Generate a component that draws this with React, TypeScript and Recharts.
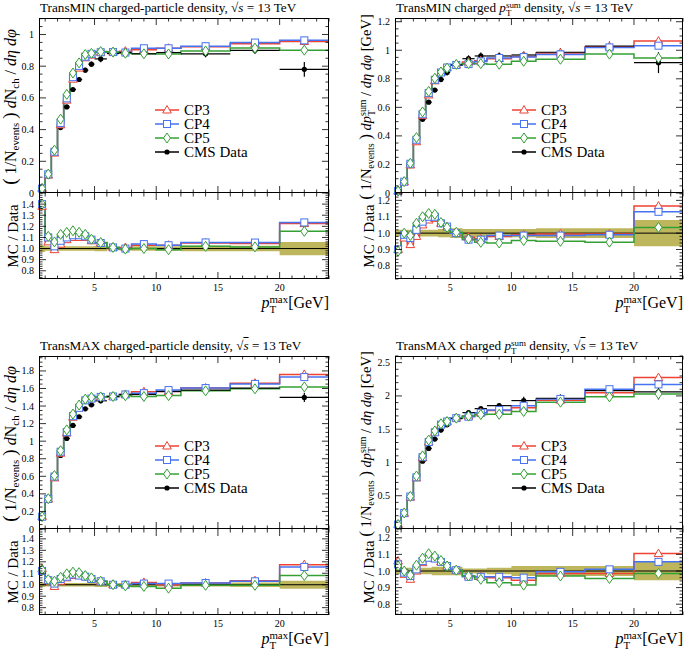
import React from "react";
import {
  Area,
  ComposedChart,
  ErrorBar,
  Line,
  ReferenceLine,
  Scatter,
  XAxis,
  YAxis,
} from "recharts";

const SERIF = '"Liberation Serif", "DejaVu Serif", serif';

// p_T^max bin edges [GeV]
const binEdges = [0.5, 1, 1.5, 2, 2.5, 3, 3.5, 4, 4.5, 5, 6, 7, 8, 10, 12, 16, 20, 24];

// TransMIN charged-particle density
const minNchData = [0.021, 0.107, 0.255, 0.413, 0.543, 0.653, 0.716, 0.775, 0.813, 0.846, 0.88, 0.886, 0.878, 0.886, 0.878, 0.9, 0.78];
const minNchRelErr = [0.03, 0.02, 0.02, 0.02, 0.02, 0.02, 0.02, 0.02, 0.02, 0.025, 0.015, 0.015, 0.02, 0.02, 0.025, 0.025, 0.06];
const minNchCP3 = [0.029, 0.113, 0.252, 0.43, 0.586, 0.718, 0.788, 0.853, 0.87, 0.888, 0.889, 0.895, 0.904, 0.913, 0.922, 0.941, 0.956];
const minNchCP4 = [0.028, 0.118, 0.26, 0.442, 0.597, 0.731, 0.802, 0.86, 0.878, 0.888, 0.889, 0.886, 0.913, 0.913, 0.926, 0.949, 0.963];
const minNchCP5 = [0.029, 0.119, 0.27, 0.466, 0.622, 0.757, 0.821, 0.874, 0.881, 0.892, 0.889, 0.882, 0.878, 0.877, 0.896, 0.914, 0.901];
const minNchCP3Ratio = [1.38, 1.06, 0.99, 1.04, 1.08, 1.1, 1.1, 1.1, 1.07, 1.05, 1.01, 1.01, 1.03, 1.03, 1.05, 1.045, 1.225];
const minNchCP4Ratio = [1.4, 1.1, 1.02, 1.07, 1.1, 1.12, 1.12, 1.11, 1.08, 1.05, 1.01, 1.0, 1.04, 1.03, 1.055, 1.054, 1.235];
const minNchCP5Ratio = [1.4, 1.11, 1.06, 1.128, 1.146, 1.16, 1.146, 1.128, 1.084, 1.054, 1.01, 0.995, 1.0, 0.99, 1.02, 1.015, 1.155];

// TransMIN charged pT-sum density
const minPtData = [0.016, 0.08, 0.211, 0.366, 0.516, 0.636, 0.721, 0.796, 0.845, 0.897, 0.941, 0.96, 0.96, 0.967, 0.986, 1.03, 0.913];
const minPtRelErr = [0.02, 0.02, 0.02, 0.02, 0.02, 0.02, 0.02, 0.025, 0.025, 0.03, 0.025, 0.025, 0.025, 0.025, 0.03, 0.03, 0.08];
const minPtCP3 = [0.014, 0.078, 0.196, 0.359, 0.542, 0.687, 0.786, 0.844, 0.879, 0.897, 0.917, 0.926, 0.941, 0.957, 0.981, 1.025, 1.064];
const minPtCP4 = [0.014, 0.079, 0.205, 0.373, 0.552, 0.7, 0.793, 0.844, 0.879, 0.897, 0.903, 0.922, 0.946, 0.952, 0.971, 1.02, 1.032];
const minPtCP5 = [0.014, 0.08, 0.208, 0.388, 0.568, 0.712, 0.804, 0.848, 0.875, 0.901, 0.907, 0.906, 0.902, 0.923, 0.937, 0.973, 0.945];
const minPtCP3Ratio = [0.9, 0.97, 0.93, 0.98, 1.05, 1.08, 1.09, 1.06, 1.04, 1.0, 0.975, 0.965, 0.98, 0.99, 0.995, 0.995, 1.165];
const minPtCP4Ratio = [0.9, 0.99, 0.97, 1.02, 1.07, 1.1, 1.1, 1.06, 1.04, 1.0, 0.96, 0.96, 0.985, 0.985, 0.985, 0.99, 1.13];
const minPtCP5Ratio = [0.89, 1.0, 0.985, 1.06, 1.1, 1.12, 1.115, 1.065, 1.035, 1.005, 0.964, 0.944, 0.94, 0.955, 0.95, 0.945, 1.035];

// TransMAX charged-particle density
const maxNchData = [0.125, 0.33, 0.591, 0.838, 1.031, 1.179, 1.278, 1.369, 1.414, 1.46, 1.509, 1.532, 1.532, 1.566, 1.581, 1.604, 1.498];
const maxNchRelErr = [0.02, 0.015, 0.015, 0.015, 0.015, 0.015, 0.015, 0.015, 0.015, 0.02, 0.015, 0.015, 0.015, 0.015, 0.015, 0.02, 0.035];
const maxNchCP3 = [0.143, 0.34, 0.582, 0.863, 1.093, 1.273, 1.38, 1.465, 1.485, 1.504, 1.509, 1.532, 1.563, 1.566, 1.605, 1.66, 1.76];
const maxNchCP4 = [0.14, 0.343, 0.597, 0.88, 1.103, 1.285, 1.38, 1.465, 1.485, 1.504, 1.509, 1.532, 1.547, 1.582, 1.605, 1.652, 1.73];
const maxNchCP5 = [0.141, 0.345, 0.609, 0.892, 1.129, 1.309, 1.412, 1.479, 1.499, 1.504, 1.509, 1.517, 1.509, 1.519, 1.573, 1.596, 1.618];
const maxNchCP3Ratio = [1.14, 1.03, 0.985, 1.03, 1.06, 1.08, 1.08, 1.07, 1.05, 1.03, 1.0, 1.0, 1.02, 1.0, 1.015, 1.035, 1.175];
const maxNchCP4Ratio = [1.12, 1.04, 1.01, 1.05, 1.07, 1.09, 1.08, 1.07, 1.05, 1.03, 1.0, 1.0, 1.01, 1.01, 1.015, 1.03, 1.155];
const maxNchCP5Ratio = [1.13, 1.045, 1.03, 1.065, 1.095, 1.11, 1.105, 1.08, 1.06, 1.03, 1.0, 0.99, 0.985, 0.97, 0.995, 0.995, 1.08];

// TransMAX charged pT-sum density
const maxPtData = [0.065, 0.241, 0.503, 0.769, 1.02, 1.211, 1.352, 1.487, 1.568, 1.658, 1.749, 1.809, 1.854, 1.93, 1.965, 2.08, 2.06];
const maxPtRelErr = [0.02, 0.02, 0.02, 0.02, 0.02, 0.02, 0.025, 0.025, 0.025, 0.025, 0.015, 0.015, 0.02, 0.03, 0.03, 0.03, 0.055];
const maxPtCP3 = [0.069, 0.236, 0.478, 0.769, 1.071, 1.308, 1.453, 1.569, 1.615, 1.666, 1.697, 1.746, 1.78, 1.824, 1.936, 2.049, 2.276];
const maxPtCP4 = [0.068, 0.239, 0.488, 0.777, 1.081, 1.308, 1.453, 1.569, 1.615, 1.666, 1.688, 1.746, 1.789, 1.853, 1.955, 2.101, 2.173];
const maxPtCP5 = [0.067, 0.241, 0.49, 0.796, 1.099, 1.337, 1.474, 1.581, 1.615, 1.666, 1.697, 1.719, 1.724, 1.766, 1.906, 1.986, 2.029];
const maxPtCP3Ratio = [1.06, 0.98, 0.95, 1.0, 1.05, 1.08, 1.075, 1.055, 1.03, 1.005, 0.97, 0.965, 0.96, 0.945, 0.985, 0.985, 1.105];
const maxPtCP4Ratio = [1.04, 0.99, 0.97, 1.01, 1.06, 1.08, 1.075, 1.055, 1.03, 1.005, 0.965, 0.965, 0.965, 0.96, 0.995, 1.01, 1.055];
const maxPtCP5Ratio = [1.03, 1.0, 0.975, 1.035, 1.077, 1.104, 1.09, 1.063, 1.03, 1.005, 0.97, 0.95, 0.93, 0.915, 0.97, 0.955, 0.985];

const seriesStyle = [
  { name: "CP3", color: "#ee4233", kind: "tri" },
  { name: "CP4", color: "#4573f2", kind: "sq" },
  { name: "CP5", color: "#34a034", kind: "dia" },
];
const BAND = "#bdb65c";

const X_DOMAIN = [0.5, 24];
const PAD_L = 34;
const PAD_R = 4;
const PAD_T = 4;

function range(from: number, to: number, step: number) {
  const out: number[] = [];
  for (let v = from; v <= to + 1e-9; v += step) out.push(Math.round(v * 1000) / 1000);
  return out;
}
const xTicks = range(1, 24, 1);

const centers = binEdges.slice(0, -1).map((lo, i) => (lo + binEdges[i + 1]) / 2);
const halfWidths = binEdges.slice(0, -1).map((lo, i) => (binEdges[i + 1] - lo) / 2);

function stepData(values: number[]) {
  const pts = values.map((y, i) => ({ x: binEdges[i], y }));
  pts.push({ x: binEdges[binEdges.length - 1], y: values[values.length - 1] });
  return pts;
}
function bandData(rel: number[]) {
  const pts = rel.map((r, i) => ({ x: binEdges[i], range: [1 - r, 1 + r] }));
  pts.push({ x: binEdges[binEdges.length - 1], range: pts[pts.length - 1].range });
  return pts;
}
function centerPoints(values: number[]) {
  return values.map((y, i) => ({ x: centers[i], y }));
}
function dataPoints(values: number[], rel: number[]) {
  return values.map((y, i) => ({ x: centers[i], y, ex: halfWidths[i], ey: y * rel[i] }));
}

function Marker({ kind, cx, cy, color }: { kind: string; cx: number; cy: number; color: string }) {
  if (kind === "tri")
    return (
      <polygon
        points={`${cx},${cy - 4.5} ${cx + 4.3},${cy + 3} ${cx - 4.3},${cy + 3}`}
        fill="#fff"
        stroke={color}
        strokeWidth={1}
      />
    );
  if (kind === "sq")
    return <rect x={cx - 3.5} y={cy - 3.5} width={7} height={7} fill="#fff" stroke={color} strokeWidth={1} />;
  if (kind === "dia")
    return (
      <polygon
        points={`${cx},${cy - 5} ${cx + 3.5},${cy} ${cx},${cy + 5} ${cx - 3.5},${cy}`}
        fill="#fff"
        stroke={color}
        strokeWidth={1}
      />
    );
  return <circle cx={cx} cy={cy} r={2.6} fill="#000" />;
}

function xTick(plotH: number, labels: boolean) {
  return (p: any) => {
    const v = p.payload.value;
    const major = v % 5 === 0;
    const len = major ? 7 : 3.5;
    return (
      <g>
        <line x1={p.x} y1={p.y} x2={p.x} y2={p.y - len} stroke="#000" strokeWidth={0.8} />
        <line x1={p.x} y1={p.y - plotH} x2={p.x} y2={p.y - plotH + len} stroke="#000" strokeWidth={0.8} />
        {labels && major ? (
          <text x={p.x} y={p.y + 12} textAnchor="middle" fontSize={10} fontFamily={SERIF} fill="#000">
            {v}
          </text>
        ) : null}
      </g>
    );
  };
}

function yTick(plotW: number, majors: number[], fmt: (v: number) => string) {
  return (p: any) => {
    const v = p.payload.value;
    const major = majors.some((m) => Math.abs(m - v) < 1e-6);
    const len = major ? 7 : 3.5;
    return (
      <g>
        <line x1={p.x} y1={p.y} x2={p.x + len} y2={p.y} stroke="#000" strokeWidth={0.8} />
        <line x1={p.x + plotW} y1={p.y} x2={p.x + plotW - len} y2={p.y} stroke="#000" strokeWidth={0.8} />
        {major ? (
          <text x={p.x - 5} y={p.y} dy="0.35em" textAnchor="end" fontSize={10} fontFamily={SERIF} fill="#000">
            {fmt(v)}
          </text>
        ) : null}
      </g>
    );
  };
}

const fmtMain = (v: number) => String(Number(v.toFixed(2)));
const fmtRatio = (v: number) => v.toFixed(1);

function Sqrt() {
  return (
    <span>
      √<span style={{ textDecoration: "overline", fontStyle: "italic" }}>s</span>
    </span>
  );
}

function SubSup({ sub, sup }: { sub: string; sup: string }) {
  return (
    <span
      style={{
        display: "inline-block",
        verticalAlign: "-0.45em",
        fontSize: "0.68em",
        lineHeight: 0.95,
        textAlign: "left",
      }}
    >
      <span style={{ display: "block" }}>{sup}</span>
      <span style={{ display: "block" }}>{sub}</span>
    </span>
  );
}

const Sub = ({ children }: { children: React.ReactNode }) => (
  <span style={{ fontSize: "0.68em", verticalAlign: "-0.3em" }}>{children}</span>
);
const Paren = ({ children }: { children: React.ReactNode }) => (
  <span style={{ fontSize: "1.2em" }}>{children}</span>
);

type PanelDef = {
  key: string;
  left: number;
  right: number;
  top: number;
  split: number;
  bottom: number;
  title: React.ReactNode;
  ylabel: React.ReactNode;
  ylabelSize: number;
  data: number[];
  relErr: number[];
  mc: number[][];
  ratio: number[][];
  mainDomain: number[];
  mainMajors: number[];
  mainMinor: number;
  ratioDomain: number[];
  ratioMajors: number[];
  legendX: number;
  legendY: number;
};

const nchLabel = (
  <>
    <Paren>(</Paren> 1/N<Sub>events</Sub> <Paren>)</Paren> <i>d</i>N<Sub>ch</Sub> / <i>dη dφ</i>
  </>
);
const ptLabel = (
  <>
    <Paren>(</Paren> 1/N<Sub>events</Sub> <Paren>)</Paren> <i>dp</i>
    <SubSup sub="T" sup="sum" /> / <i>dη dφ</i> [GeV]
  </>
);

const panels: PanelDef[] = [
  {
    key: "minNch",
    left: 39,
    right: 329,
    top: 18,
    split: 193,
    bottom: 279,
    title: (
      <>
        TransMIN charged-particle density, <Sqrt /> = 13 TeV
      </>
    ),
    ylabel: nchLabel,
    ylabelSize: 16,
    data: minNchData,
    relErr: minNchRelErr,
    mc: [minNchCP3, minNchCP4, minNchCP5],
    ratio: [minNchCP3Ratio, minNchCP4Ratio, minNchCP5Ratio],
    mainDomain: [0, 1.104],
    mainMajors: [0, 0.2, 0.4, 0.6, 0.8, 1],
    mainMinor: 0.05,
    ratioDomain: [0.726, 1.5],
    ratioMajors: [0.8, 0.9, 1.0, 1.1, 1.2, 1.3, 1.4],
    legendX: 155,
    legendY: 110,
  },
  {
    key: "minPt",
    left: 395,
    right: 683,
    top: 18,
    split: 193,
    bottom: 279,
    title: (
      <>
        TransMIN charged <i>p</i>
        <SubSup sub="T" sup="sum" /> density, <Sqrt /> = 13 TeV
      </>
    ),
    ylabel: ptLabel,
    ylabelSize: 14.5,
    data: minPtData,
    relErr: minPtRelErr,
    mc: [minPtCP3, minPtCP4, minPtCP5],
    ratio: [minPtCP3Ratio, minPtCP4Ratio, minPtCP5Ratio],
    mainDomain: [0, 1.226],
    mainMajors: [0, 0.2, 0.4, 0.6, 0.8, 1, 1.2],
    mainMinor: 0.05,
    ratioDomain: [0.72, 1.245],
    ratioMajors: [0.8, 0.9, 1.0, 1.1, 1.2],
    legendX: 512,
    legendY: 110,
  },
  {
    key: "maxNch",
    left: 39,
    right: 329,
    top: 356,
    split: 529,
    bottom: 615,
    title: (
      <>
        TransMAX charged-particle density, <Sqrt /> = 13 TeV
      </>
    ),
    ylabel: nchLabel,
    ylabelSize: 16,
    data: maxNchData,
    relErr: maxNchRelErr,
    mc: [maxNchCP3, maxNchCP4, maxNchCP5],
    ratio: [maxNchCP3Ratio, maxNchCP4Ratio, maxNchCP5Ratio],
    mainDomain: [0, 1.97],
    mainMajors: [0, 0.2, 0.4, 0.6, 0.8, 1, 1.2, 1.4, 1.6, 1.8],
    mainMinor: 0.05,
    ratioDomain: [0.736, 1.486],
    ratioMajors: [0.8, 0.9, 1.0, 1.1, 1.2, 1.3, 1.4],
    legendX: 155,
    legendY: 446,
  },
  {
    key: "maxPt",
    left: 395,
    right: 683,
    top: 356,
    split: 529,
    bottom: 615,
    title: (
      <>
        TransMAX charged <i>p</i>
        <SubSup sub="T" sup="sum" /> density, <Sqrt /> = 13 TeV
      </>
    ),
    ylabel: ptLabel,
    ylabelSize: 14.5,
    data: maxPtData,
    relErr: maxPtRelErr,
    mc: [maxPtCP3, maxPtCP4, maxPtCP5],
    ratio: [maxPtCP3Ratio, maxPtCP4Ratio, maxPtCP5Ratio],
    mainDomain: [0, 2.6],
    mainMajors: [0, 0.5, 1, 1.5, 2, 2.5],
    mainMinor: 0.1,
    ratioDomain: [0.735, 1.253],
    ratioMajors: [0.8, 0.9, 1.0, 1.1, 1.2],
    legendX: 512,
    legendY: 446,
  },
];

function MainPlot({ p }: { p: PanelDef }) {
  const w = p.right - p.left;
  const h = p.split - p.top;
  const yTicks = range(p.mainDomain[0], p.mainDomain[1], p.mainMinor);
  const padB = 8;
  return (
    <div style={{ position: "absolute", left: p.left - PAD_L, top: p.top - PAD_T }}>
      <ComposedChart
        width={w + PAD_L + PAD_R}
        height={h + PAD_T + padB}
        margin={{ top: PAD_T, right: PAD_R, bottom: 0, left: 0 }}
      >
        <XAxis
          type="number"
          dataKey="x"
          domain={X_DOMAIN}
          ticks={xTicks}
          interval={0}
          axisLine={false}
          tickLine={false}
          tickSize={0}
          tickMargin={0}
          height={padB}
          tick={xTick(h, false)}
        />
        <YAxis
          type="number"
          domain={p.mainDomain}
          ticks={yTicks}
          interval={0}
          axisLine={false}
          tickLine={false}
          tickSize={0}
          tickMargin={0}
          width={PAD_L}
          tick={yTick(w, p.mainMajors, fmtMain)}
        />
        {seriesStyle.map((s, i) => (
          <Line
            key={s.name + "-line"}
            data={stepData(p.mc[i])}
            dataKey="y"
            type="stepAfter"
            stroke={s.color}
            strokeWidth={1.5}
            dot={false}
            isAnimationActive={false}
          />
        ))}
        <Scatter
          data={dataPoints(p.data, p.relErr)}
          dataKey="y"
          isAnimationActive={false}
          shape={(q: any) => <Marker kind="data" cx={q.cx} cy={q.cy} color="#000" />}
        >
          <ErrorBar dataKey="ex" direction="x" width={0} stroke="#000" strokeWidth={1.2} />
          <ErrorBar dataKey="ey" direction="y" width={0} stroke="#000" strokeWidth={1.2} />
        </Scatter>
        {seriesStyle.map((s, i) => (
          <Scatter
            key={s.name + "-pts"}
            data={centerPoints(p.mc[i])}
            dataKey="y"
            isAnimationActive={false}
            shape={(q: any) => <Marker kind={s.kind} cx={q.cx} cy={q.cy} color={s.color} />}
          />
        ))}
      </ComposedChart>
    </div>
  );
}

function RatioPlot({ p }: { p: PanelDef }) {
  const w = p.right - p.left;
  const h = p.bottom - p.split;
  const yTicks = range(Math.ceil(p.ratioDomain[0] * 50) / 50, p.ratioDomain[1], 0.02);
  const padB = 20;
  return (
    <div style={{ position: "absolute", left: p.left - PAD_L, top: p.split - PAD_T }}>
      <ComposedChart
        width={w + PAD_L + PAD_R}
        height={h + PAD_T + padB}
        margin={{ top: PAD_T, right: PAD_R, bottom: 0, left: 0 }}
      >
        <XAxis
          type="number"
          dataKey="x"
          domain={X_DOMAIN}
          ticks={xTicks}
          interval={0}
          axisLine={false}
          tickLine={false}
          tickSize={0}
          tickMargin={0}
          height={padB}
          tick={xTick(h, true)}
        />
        <YAxis
          type="number"
          domain={p.ratioDomain}
          ticks={yTicks}
          interval={0}
          axisLine={false}
          tickLine={false}
          tickSize={0}
          tickMargin={0}
          width={PAD_L}
          tick={yTick(w, p.ratioMajors, fmtRatio)}
        />
        <Area
          data={bandData(p.relErr)}
          dataKey="range"
          type="stepAfter"
          stroke="none"
          fill={BAND}
          fillOpacity={1}
          isAnimationActive={false}
        />
        <ReferenceLine y={1} stroke="#000" strokeWidth={1} />
        {seriesStyle.map((s, i) => (
          <Line
            key={s.name + "-line"}
            data={stepData(p.ratio[i])}
            dataKey="y"
            type="stepAfter"
            stroke={s.color}
            strokeWidth={1.5}
            dot={false}
            isAnimationActive={false}
          />
        ))}
        {seriesStyle.map((s, i) => (
          <Scatter
            key={s.name + "-pts"}
            data={centerPoints(p.ratio[i])}
            dataKey="y"
            isAnimationActive={false}
            shape={(q: any) => <Marker kind={s.kind} cx={q.cx} cy={q.cy} color={s.color} />}
          />
        ))}
      </ComposedChart>
    </div>
  );
}

function Legend({ x, y }: { x: number; y: number }) {
  const rows = [
    ...seriesStyle.map((s) => ({ name: s.name, color: s.color, kind: s.kind })),
    { name: "CMS Data", color: "#000", kind: "data" },
  ];
  return (
    <div style={{ position: "absolute", left: x, top: y - 7, fontSize: 15 }}>
      {rows.map((r) => (
        <div key={r.name} style={{ display: "flex", alignItems: "center", height: 14 }}>
          <svg width={24} height={12} style={{ marginRight: 5 }}>
            <line x1={0} y1={6} x2={24} y2={6} stroke={r.color} strokeWidth={1.5} />
            <Marker kind={r.kind} cx={12} cy={6} color={r.color} />
          </svg>
          <span style={{ lineHeight: "13px" }}>{r.name}</span>
        </div>
      ))}
    </div>
  );
}

function Rotated({ cx, cy, size, children }: { cx: number; cy: number; size: number; children: React.ReactNode }) {
  return (
    <div
      style={{
        position: "absolute",
        left: cx,
        top: cy,
        transform: "translate(-50%, -50%) rotate(-90deg)",
        whiteSpace: "nowrap",
        fontSize: size,
        lineHeight: 1.2,
      }}
    >
      {children}
    </div>
  );
}

function Panel({ p }: { p: PanelDef }) {
  const labelX = p.left - 29;
  return (
    <>
      <div
        style={{
          position: "absolute",
          left: p.left + 1,
          top: p.top - 18,
          fontSize: 13.2,
          whiteSpace: "nowrap",
          lineHeight: "16px",
        }}
      >
        {p.title}
      </div>
      <Rotated cx={labelX} cy={(p.top + p.split) / 2 + 1} size={p.ylabelSize}>
        {p.ylabel}
      </Rotated>
      <Rotated cx={labelX + 3} cy={(p.split + p.bottom) / 2} size={15}>
        MC / Data
      </Rotated>
      <MainPlot p={p} />
      <RatioPlot p={p} />
      <div
        style={{
          position: "absolute",
          left: p.left,
          top: p.top,
          width: p.right - p.left,
          height: p.split - p.top,
          border: "1px solid #000",
          boxSizing: "border-box",
          pointerEvents: "none",
        }}
      />
      <div
        style={{
          position: "absolute",
          left: p.left,
          top: p.split - 1,
          width: p.right - p.left,
          height: p.bottom - p.split + 1,
          border: "1px solid #000",
          boxSizing: "border-box",
          pointerEvents: "none",
        }}
      />
      <Legend x={p.legendX} y={p.legendY} />
      <div
        style={{
          position: "absolute",
          left: p.right - 100,
          width: 100,
          top: p.bottom + 15,
          textAlign: "right",
          fontSize: 16,
          whiteSpace: "nowrap",
          lineHeight: "13px",
        }}
      >
        <i>p</i>
        <SubSup sub="T" sup="max" />
        [GeV]
      </div>
    </>
  );
}

export default function App() {
  return (
    <div
      style={{
        position: "absolute",
        left: 0,
        top: 0,
        width: 685,
        height: 651,
        overflow: "hidden",
        background: "#fff",
        fontFamily: SERIF,
        color: "#000",
      }}
    >
      {panels.map((p) => (
        <Panel key={p.key} p={p} />
      ))}
    </div>
  );
}
